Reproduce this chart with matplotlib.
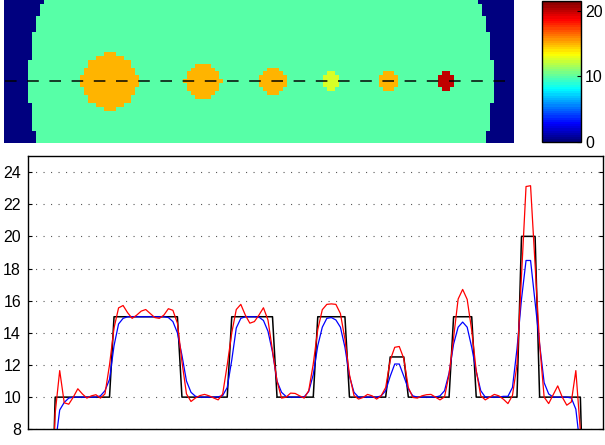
import numpy as np
import matplotlib
matplotlib.use("Agg")
import matplotlib.pyplot as plt
from matplotlib.colors import LinearSegmentedColormap

# phantom band: 36 rows x 128 columns
n_rows, n_cols = 36, 128
profile_row = 20
# first phantom column of each row (last one is n_cols - left)
edge_left = [10, 9, 9, 9, 8, 8, 8, 8, 7, 7, 7, 7, 7, 7, 7,
             6, 6, 6, 6, 6, 6, 6, 6, 6, 6, 6,
             7, 7, 7, 7, 7, 7, 7, 8, 8, 8]
background_value = 10
# inserts: centre column, centre row, radius (pixels), value
insert_col = [26, 49.5, 67, 81.5, 96, 110.5]
insert_row = [20, 20, 20, 20, 20, 20]
insert_rad = [7.2, 4.6, 3.4, 2.2, 2.5, 2.2]
insert_val = [15, 15, 15, 12.5, 15, 20]

# reconstructed profiles along the dashed line (one value per column)
blue_profile = [
    0, 0, 0, 0, 0, 1.0, 7.0, 9.2, 9.67, 9.94,
    10.0, 10.0, 10.0, 10.0, 10.0, 10.0, 10.08, 10.4, 11.1, 13.2,
    14.55, 14.9, 15.0, 15.0, 15.0, 15.0, 15.0, 15.0, 15.0, 15.0,
    15.0, 14.95, 14.7, 14.0, 12.6, 11.0, 10.3, 10.05, 10.0, 10.0,
    10.0, 10.0, 10.02, 10.1, 10.6, 12.3, 14.3, 14.9, 15.0, 15.0,
    15.0, 14.98, 14.77, 14.1, 12.8, 11.0, 10.3, 10.04, 10.0, 10.0,
    10.0, 10.02, 10.35, 11.4, 13.2, 14.35, 14.9, 14.95, 14.8, 14.35,
    13.1, 11.3, 10.3, 10.0, 10.0, 10.0, 10.0, 10.0, 10.08, 10.4,
    11.3, 12.06, 12.06, 11.3, 10.5, 10.08, 10.0, 10.0, 10.0, 10.0,
    10.0, 10.08, 10.4, 11.5, 13.3, 14.35, 14.67, 14.35, 13.1, 11.6,
    10.4, 10.0, 10.0, 10.0, 10.0, 10.05, 10.05, 10.6, 13.0, 16.1,
    18.5, 18.5, 15.9, 13.3, 10.9, 10.2, 10.0, 10.0, 10.0, 10.0,
    9.95, 9.25, 6.8, 0, 0, 0, 0, 0]
red_profile = [
    0, 0, 0, 0, 0, 1.9, 9.0, 11.65, 9.65, 9.56,
    10.0, 10.52, 10.2, 9.94, 10.08, 10.15, 9.94, 10.2, 12.0, 14.3,
    15.55, 15.7, 15.25, 14.9, 15.1, 15.35, 15.45, 15.2, 14.95, 14.9,
    15.1, 15.5, 15.4, 14.6, 12.2, 10.2, 9.73, 9.95, 10.1, 10.17,
    10.08, 9.95, 9.83, 10.2, 12.0, 14.0, 15.45, 15.77, 15.1, 14.6,
    14.7, 15.1, 15.56, 14.8, 12.9, 11.0, 9.94, 10.0, 10.25, 10.23,
    10.08, 9.94, 10.4, 12.06, 14.2, 15.44, 15.77, 15.8, 15.77, 15.2,
    13.6, 11.4, 10.1, 9.88, 9.98, 10.17, 10.08, 9.88, 10.08, 10.6,
    12.3, 13.1, 13.15, 12.4, 10.6, 9.98, 9.94, 10.08, 10.15, 10.17,
    10.0, 9.83, 10.02, 11.4, 13.7, 16.1, 16.7, 16.08, 14.15, 11.65,
    10.08, 9.83, 10.0, 10.17, 10.08, 9.87, 9.6, 10.1, 12.0, 17.5,
    23.1, 23.15, 18.2, 13.3, 10.0, 9.6, 10.15, 10.7, 10.0, 9.5,
    9.7, 11.65, 7.9, 0, 0, 0, 0, 0]

y_ticks = [8, 10, 12, 14, 16, 18, 20, 22, 24]
cbar_ticks = [0, 10, 20]

# build the phantom image
img = np.zeros((n_rows, n_cols))
for r, left in enumerate(edge_left):
    img[r, left:n_cols - left + 1] = background_value
rr, cc = np.mgrid[0:n_rows, 0:n_cols]
for cx, cy, rad, val in zip(insert_col, insert_row, insert_rad, insert_val):
    img[(cc - cx) ** 2 + (rr - cy) ** 2 <= rad ** 2] = val
true_profile = img[profile_row]

jet = LinearSegmentedColormap.from_list(
    "matlab_jet",
    [(0, (0, 0, 0.5)), (1 / 8, (0, 0, 1)), (3 / 8, (0, 1, 1)),
     (5 / 8, (1, 1, 0)), (7 / 8, (1, 0, 0)), (1, (0.5, 0, 0))], N=64)

plt.rcParams["font.family"] = ["Liberation Sans", "DejaVu Sans"]
fig = plt.figure(figsize=(6.05, 4.45), dpi=100)

ax_img = fig.add_axes([0.0066, 0.6787, 0.8421, 0.3213])
im = ax_img.imshow(img, cmap=jet, vmin=0, vmax=21.5, interpolation="nearest",
                   extent=(0, n_cols, n_rows, 0), aspect="auto")
ax_img.plot([0.3, 126.5], [profile_row + 0.3] * 2, color="k", alpha=0.75,
            lw=1.44, ls=(0, (5.8, 5.3)))
ax_img.set_xlim(0, n_cols)
ax_img.set_ylim(n_rows, 0)
ax_img.axis("off")

cax = fig.add_axes([0.8964, 0.6816, 0.0635, 0.3162])
cb = fig.colorbar(im, cax=cax, ticks=cbar_ticks)
cb.outline.set_linewidth(1.0)
cax.tick_params(direction="in", length=3, labelsize=11.5, pad=3)

ax = fig.add_axes([0.0463, 0.0353, 0.9504, 0.6142])
x = np.arange(n_cols)
ax.plot(x, true_profile, color="k", lw=1.1)
ax.plot(x, blue_profile, color="b", lw=0.9)
ax.plot(x, red_profile, color="r", lw=0.9)
ax.set_xlim(0, n_cols - 1)
ax.set_ylim(8, 25)
ax.set_yticks(y_ticks)
ax.set_xticks([])
ax.yaxis.grid(True, color="0.35", lw=0.8, ls=(0, (1, 5.75)))
ax.tick_params(axis="y", direction="in", length=3, labelsize=11.5, pad=5,
               right=True)
for s in ax.spines.values():
    s.set_linewidth(1.0)

fig.savefig("out.png", dpi=100)
